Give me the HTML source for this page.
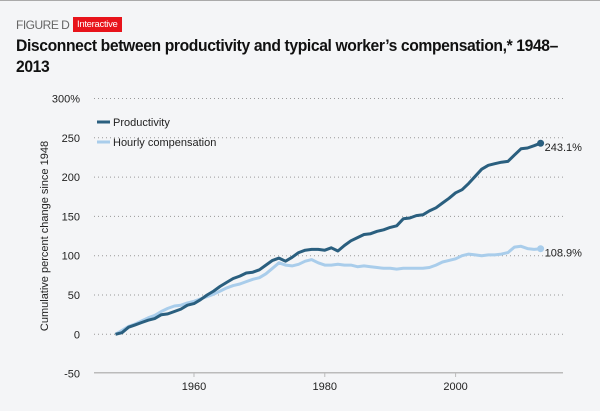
<!DOCTYPE html>
<html><head><meta charset="utf-8"><style>
body{margin:0;background:#f4f5f7;font-family:"Liberation Sans",sans-serif;}
#c{position:relative;width:600px;height:411px;overflow:hidden;background:#f4f5f7;border-top:1px solid #aaa;box-sizing:border-box}
</style></head><body>
<div id="c">
<div style="position:absolute;left:16px;top:17px;font-size:12px;color:#666;letter-spacing:-0.5px">FIGURE D</div>
<div style="position:absolute;left:73px;top:16px;background:#e8141b;color:#fff;font-size:9.5px;padding:2px 4px;letter-spacing:-0.3px">Interactive</div>
<div style="position:absolute;left:16px;top:35px;white-space:nowrap;font-size:16.5px;font-weight:bold;color:#111;line-height:21px;letter-spacing:-0.4px;transform:scaleX(0.95);transform-origin:left top">Disconnect between productivity and typical worker’s compensation,* 1948–<br>2013</div>
<svg id="s" width="600" height="411" style="position:absolute;left:0;top:0"></svg>
</div>
<script>
const years=[];for(let y=1948;y<=2013;y++)years.push(y);
const productivity=[0,2,9,12,15,18,20,25,26,29,32,37,39,44,50,55,61,66,71,74,78,79,82,88,94,97,93,98,104,107,108,108,107,110,106,113,119,123,127,128,131,133,136,138,147,148,151,152,157,161,167,173,180,184,192,201,210,215,217,219,220,228,236,237,240,243.1];
const compensation=[0,5,10,13,17,21,24,29,33,36,37,40,42,45,48,51,55,59,62,64,67,70,72,77,84,91,88,87,89,93,95,91,88,88,89,88,88,86,87,86,85,84,84,83,84,84,84,84,85,88,92,94,96,100,102,101,100,101,101,102,104,111,112,109,108,108.9];
const yTicks=[-50,0,50,100,150,200,250,300];
const xTicks=[1960,1980,2000];
const NS='http://www.w3.org/2000/svg',svg=document.getElementById('s');
const X=v=>115.5+(v-1948)*6.54, Y=v=>333.3-v*0.786;
function el(t,a,txt){const e=document.createElementNS(NS,t);for(const k in a)e.setAttribute(k,a[k]);if(txt!=null)e.textContent=txt;svg.appendChild(e);return e;}
yTicks.forEach(t=>{
 if(t>-50){const g=el('line',{x1:94,x2:563,y1:Y(t),y2:Y(t),stroke:'#999','stroke-dasharray':'1 3','stroke-width':1});
 
 }
 const l=el('text',{x:80,y:Y(t)+4,'text-anchor':'end','font-size':11,fill:'#222'},t===300?'300%':String(t));
 
 
});
const ax=el('line',{x1:94,x2:563,y1:371.7,y2:371.7,stroke:'#bbb','stroke-width':1.5});


xTicks.forEach(t=>{
 const tk=el('line',{x1:X(t),x2:X(t),y1:371,y2:376,stroke:'#bbb'});
 
 
 const l=el('text',{x:X(t),y:389,'text-anchor':'middle','font-size':11,fill:'#222'},String(t));
 
 
});
const yt=el('text',{transform:'translate(48,235) rotate(-90)','text-anchor':'middle','font-size':11,fill:'#222'},'Cumulative percent change since 1948');


function series(vals,color,name){
 const d=vals.map((v,i)=>(i?'L':'M')+X(years[i]).toFixed(1)+','+Y(v).toFixed(1)).join('');
 const p=el('path',{d:d,fill:'none',stroke:color,'stroke-width':3,'stroke-linejoin':'round'});
 
 
 const n=vals.length-1;
 const c=el('circle',{cx:X(years[n]),cy:Y(vals[n]),r:3.5,fill:color});
 
 
 const t=el('text',{x:X(years[n])+4,y:Y(vals[n])+8,'font-size':11,fill:'#222'},vals[n].toFixed(1)+'%');
 
 
}
series(compensation,'#a9cdeb','compensation');
series(productivity,'#2a5f7f','productivity');
[['Productivity','#2a5f7f',121],['Hourly compensation','#a9cdeb',141]].forEach(([n,c,y])=>{
 const l=el('line',{x1:97,x2:110,y1:y,y2:y,stroke:c,'stroke-width':3});
 
 
 const t=el('text',{x:113,y:y+4,'font-size':11,fill:'#222'},n);
 
 
});
</script>
</body></html>
